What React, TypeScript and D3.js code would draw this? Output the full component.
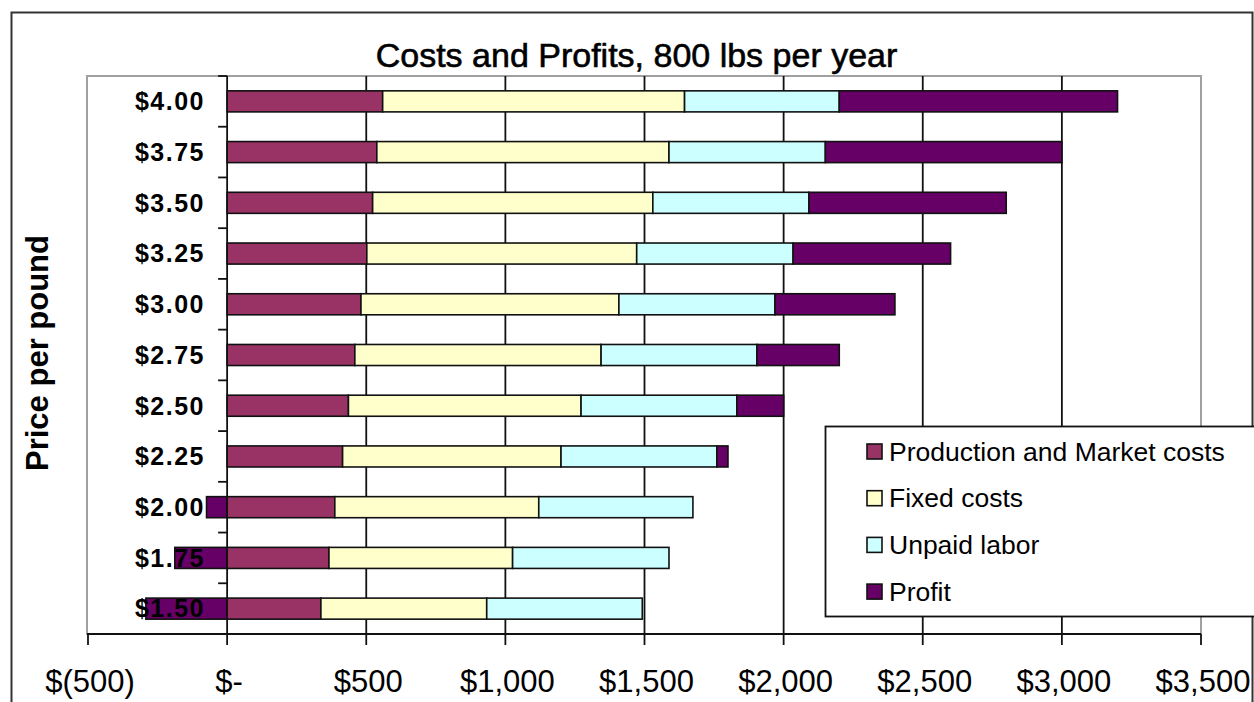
import React from 'react';
import * as d3 from 'd3';

const categories = ['$4.00', '$3.75', '$3.50', '$3.25', '$3.00', '$2.75', '$2.50', '$2.25', '$2.00', '$1.75', '$1.50'];
const production = [559, 538, 523, 502, 481, 459, 436, 415, 387, 366, 337];
const fixedCosts = [1085, 1050, 1007, 970, 927, 885, 836, 785, 733, 660, 596];
const unpaidLabor = [556, 562, 561, 562, 561, 560, 560, 560, 554, 562, 559];
const profit = [1000, 850, 709, 566, 431, 296, 168, 40, -74, -188, -292];
const xTicks = [-500, 0, 500, 1000, 1500, 2000, 2500, 3000, 3500];
const seriesNames = ['Production and Market costs', 'Fixed costs', 'Unpaid labor', 'Profit'];
const seriesKeys = ['prod', 'fixed', 'unpaid', 'profit'];
const colors = ['#993366', '#FFFFCC', '#CCFFFF', '#660066'];

const W = 1254;
const H = 702;
const plotLeft = 88;
const plotRight = 1201;
const plotTop = 76;
const plotBottom = 634;

const fmt = (v: number) => {
  if (v < 0) return `$(${d3.format(',')(-v)})`;
  if (v === 0) return '$-';
  return '$' + d3.format(',')(v);
};

export default function App() {
  const rows = categories.map((c, i) => ({
    cat: c,
    prod: production[i],
    fixed: fixedCosts[i],
    unpaid: unpaidLabor[i],
    profit: profit[i],
  }));
  const stack = d3.stack<any>().keys(seriesKeys).offset(d3.stackOffsetDiverging);
  const stacked = stack(rows);

  const x = d3.scaleLinear().domain([-500, 3500]).range([plotLeft, plotRight]);
  const y = d3.scaleBand().domain(categories).range([plotTop, plotBottom]).padding(0);
  const barH = y.bandwidth() * 0.415;
  const x0 = x(0);
  const boundaries = d3.range(categories.length + 1).map((i) => plotTop + i * y.step());

  const font = 'Liberation Sans, Arial, sans-serif';

  return (
    <svg width={W} height={H} style={{ position: 'absolute', left: 0, top: 0, background: '#fff' }}>
      <rect x={0} y={0} width={W} height={H} fill="#fff" />
      {/* outer chart border */}
      <rect x={11.5} y={12.5} width={1241} height={720} fill="#fff" stroke="#333" strokeWidth={2} />
      {/* title */}
      <text x={636.5} y={67} textAnchor="middle" fontFamily={font} fontSize={34} fill="#000" stroke="#000" strokeWidth={0.6}>
        Costs and Profits, 800 lbs per year
      </text>
      {/* plot area */}
      <rect x={plotLeft - 1} y={plotTop} width={plotRight - plotLeft + 1} height={plotBottom - plotTop} fill="#fff" stroke="#a0a0a0" strokeWidth={2} />
      {/* gridlines */}
      {xTicks.filter((t) => t > 0 && t < 3500).map((t) => (
        <line key={t} x1={x(t)} x2={x(t)} y1={plotTop} y2={plotBottom} stroke="#111" strokeWidth={1.8} />
      ))}
      {/* bars */}
      {stacked.map((s, si) => (
        <g key={s.key}>
          {s.map((d, i) => {
            const xa = x(Math.min(d[0], d[1]));
            const xb = x(Math.max(d[0], d[1]));
            if (xb - xa < 0.01) return null;
            const cy = (y(categories[i]) as number) + y.bandwidth() / 2;
            return (
              <rect key={i} x={xa} y={cy - barH / 2} width={xb - xa} height={barH} fill={colors[si]} stroke="#111" strokeWidth={1.6} />
            );
          })}
        </g>
      ))}
      {/* category axis at zero */}
      <line x1={x0} x2={x0} y1={plotTop} y2={plotBottom} stroke="#111" strokeWidth={1.8} />
      {boundaries.map((b, i) => (
        <line key={i} x1={x0 - 9} x2={x0} y1={b} y2={b} stroke="#111" strokeWidth={1.8} />
      ))}
      {/* category labels */}
      {categories.map((c) => (
        <text key={c} x={205} y={(y(c) as number) + y.bandwidth() / 2 + 8.8} textAnchor="end" fontFamily={font} fontWeight="bold" fontSize={25} letterSpacing={1.5} fill="#000">
          {c}
        </text>
      ))}
      {/* x axis */}
      <line x1={plotLeft - 1} x2={plotRight} y1={plotBottom} y2={plotBottom} stroke="#111" strokeWidth={1.8} />
      {xTicks.map((t) => (
        <g key={t}>
          <line x1={x(t)} x2={x(t)} y1={plotBottom} y2={plotBottom + 11} stroke="#111" strokeWidth={1.8} />
          <text x={x(t) + 2} y={692} textAnchor="middle" fontFamily={font} fontSize={31} fill="#000">
            {fmt(t)}
          </text>
        </g>
      ))}
      {/* y axis title */}
      <text transform="translate(47.5,353) rotate(-90)" textAnchor="middle" fontFamily={font} fontWeight="bold" fontSize={31} fill="#000">
        Price per pound
      </text>
      {/* legend */}
      <rect x={825.5} y={426.5} width={440} height={190} fill="#fff" stroke="#111" strokeWidth={1.8} />
      {seriesNames.map((n, i) => {
        const cy = 451.5 + i * 46.7;
        return (
          <g key={n}>
            <rect x={867} y={cy - 7.5} width={15} height={15} fill={colors[i]} stroke="#111" strokeWidth={1.6} />
            <text x={889} y={cy + 9} fontFamily={font} fontSize={26.5} fill="#000">
              {n}
            </text>
          </g>
        );
      })}
    </svg>
  );
}
